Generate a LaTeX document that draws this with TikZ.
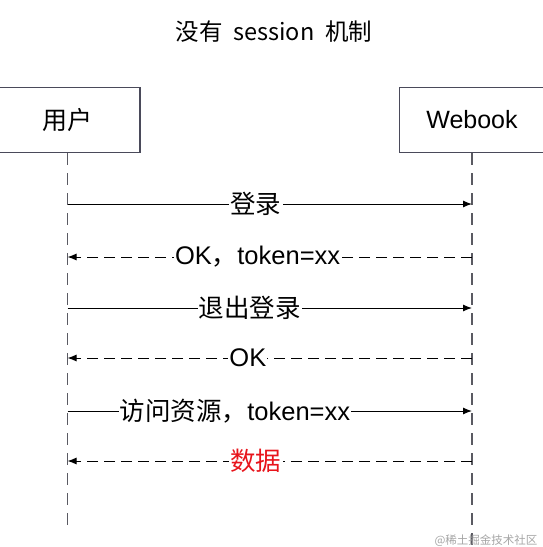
\documentclass[tikz,border=0pt]{standalone}
\usepackage{fontspec}
\setmainfont{Liberation Sans}
\newfontfamily\cjk{Noto Sans CJK SC}
\usetikzlibrary{arrows.meta}
\definecolor{boxline}{HTML}{4A4A5A}
\definecolor{lifegray}{HTML}{5A5A62}
\definecolor{redtxt}{HTML}{E8141B}
\begin{document}
\begin{tikzpicture}[x=1pt,y=-1pt,
  actor/.style={draw=boxline,line width=1.1pt,minimum width=145pt,minimum height=65pt,font=\fontsize{25}{29}\selectfont,fill=white},
  lifeline/.style={draw=lifegray,line width=1.2pt,dash pattern=on 12pt off 8pt},
  callmsg/.style={draw=black,line width=1pt,-{Latex[length=9pt,width=7pt]}},
  retmsg/.style={draw=black,line width=1pt,dash pattern=on 11pt off 6pt,-{Latex[length=9pt,width=7pt]}},
  lbl/.style={fill=white,inner sep=1pt,font=\fontsize{25.5}{29}\selectfont}]
\useasboundingbox (0,0) rectangle (542,547);
\fill[white] (0,0) rectangle (542,547);
\node[font=\fontsize{23.5}{27}\selectfont] (title) at (274,32) {\cjk 没有\ \ session\ \ 机制};
\node[actor] (u) at (67.5,120) {\cjk 用户};
\node[actor] (w) at (472,120) {Webook};
\coordinate (uend) at (67.5,527);
\coordinate (wend) at (472,547);
\draw[lifeline] (u.south) -- (uend);
\draw[lifeline] (w.south) -- (wend);
\foreach \i/\y in {1/204,2/257,3/308,4/358,5/411,6/461}{
  \coordinate (u\i) at (67.5,\y);
  \coordinate (w\i) at (472,\y);
}
\draw[callmsg] (u1) -- node[lbl,pos=0.466] (m1) {\cjk 登录} (w1);
\draw[retmsg] (w2) -- node[lbl,pos=0.53] (m2) {OK{\cjk ，}token=xx} (u2);
\draw[callmsg] (u3) -- node[lbl,pos=0.45] (m3) {\cjk 退出登录} (w3);
\draw[retmsg] (w4) -- node[lbl,pos=0.554] (m4) {OK} (u4);
\draw[callmsg] (u5) -- node[lbl,pos=0.414] (m5) {{\cjk 访问资源，}token=xx} (w5);
\draw[retmsg] (w6) -- node[lbl,pos=0.534,text=redtxt] (m6) {\cjk 数据} (u6);
\node[text=gray!70,font=\fontsize{11.5}{13}\selectfont] (wm) at (486,541) {\cjk @稀土掘金技术社区};
\end{tikzpicture}
\end{document}
